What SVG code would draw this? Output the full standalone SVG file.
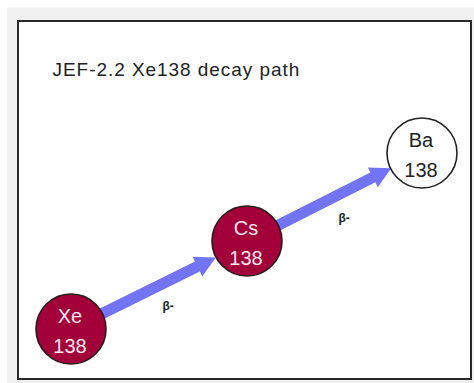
<svg xmlns="http://www.w3.org/2000/svg" width="474" height="383" viewBox="0 0 474 383">
<style>
.title{font-family:"Liberation Sans",Arial,sans-serif;font-size:19px;letter-spacing:0.95px;fill:#222}
.nuc{font-family:"Liberation Sans",Arial,sans-serif;font-size:20px;text-anchor:middle}
.red circle{fill:#a3003a;stroke:#2a1a1a;stroke-width:1.6}
.red text{fill:#ffe6ee}
.white circle{fill:#ffffff;stroke:#222;stroke-width:1.6}
.white text{fill:#222}
.arrow{fill:#7373f5}
.lbl{font-family:"Liberation Sans",Arial,sans-serif;font-size:12px;font-weight:bold;fill:#222}
</style>
<rect x="0" y="0" width="474" height="383" fill="#ffffff"/>
<rect x="7" y="7.5" width="467" height="375.5" fill="#f0f0f0"/>
<rect x="18" y="21" width="453" height="358" fill="#ffffff" stroke="#2a2a2a" stroke-width="2"/>
<text class="title" x="52.5" y="75.5">JEF-2.2 Xe138 decay path</text>
<g id="connectors">
  <g id="xe-cs">
    <polygon class="arrow" transform="translate(71,329) rotate(-26.3)" points="0,-5.5 141,-5.5 141,-11 161.5,0 141,11 141,5.5 0,5.5"/>
    <text class="lbl" x="162.5" y="310">β-</text>
  </g>
  <g id="cs-ba">
    <polygon class="arrow" transform="translate(247,241) rotate(-26.8)" points="0,-5.5 141,-5.5 141,-11 161.5,0 141,11 141,5.5 0,5.5"/>
    <text class="lbl" x="338.5" y="222">β-</text>
  </g>
</g>
<g id="Xe138" class="red nuc">
  <circle cx="71" cy="329" r="35"/>
  <text x="70" y="323">Xe</text>
  <text x="70" y="352.5">138</text>
</g>
<g id="Cs138" class="red nuc">
  <circle cx="247" cy="241" r="35"/>
  <text x="246" y="235">Cs</text>
  <text x="246" y="264.5">138</text>
</g>
<g id="Ba138" class="white nuc">
  <circle cx="422" cy="153" r="35"/>
  <text x="421" y="147">Ba</text>
  <text x="421" y="176.5">138</text>
</g>
</svg>
